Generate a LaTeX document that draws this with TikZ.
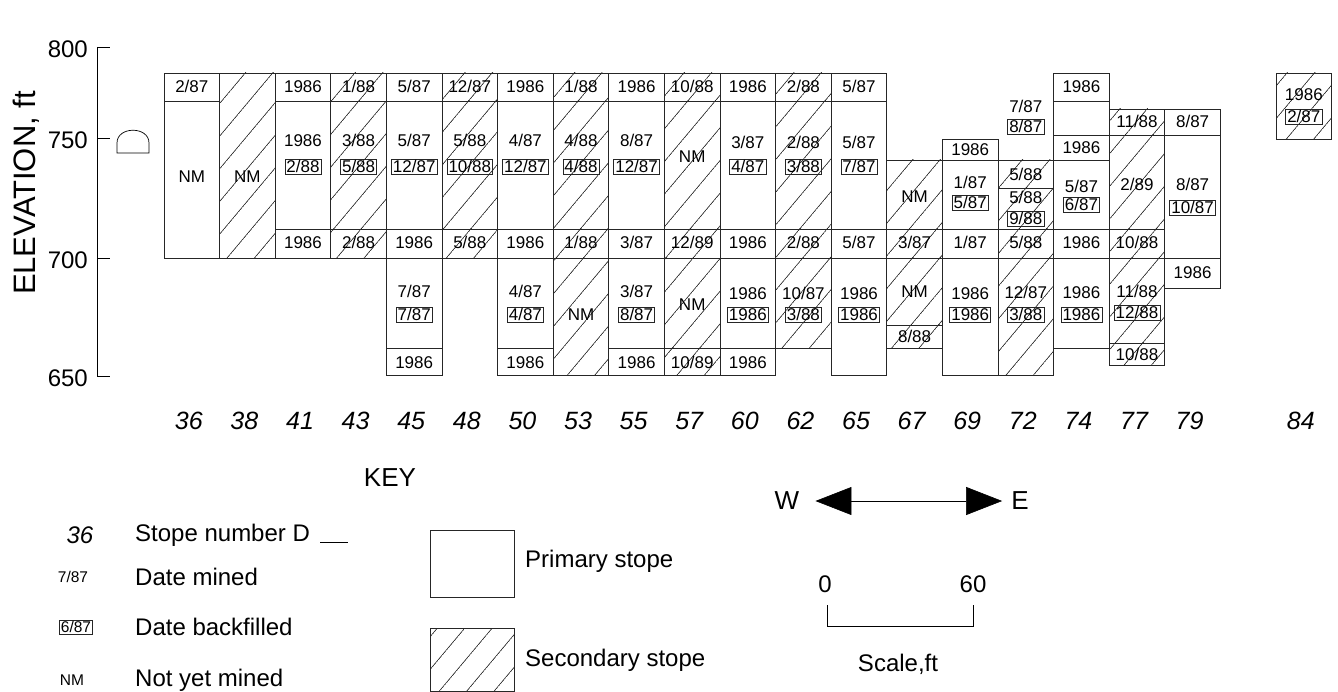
\documentclass[tikz,border=0pt]{standalone}
\usepackage{fontspec}
\setmainfont{Liberation Sans}
\usetikzlibrary{arrows.meta,patterns.meta}

\tikzdeclarepattern{
  name=stopehatch,
  type=uncolored,
  bounding box={(0pt,-0.5pt) and (21pt,0.5pt)},
  tile size={(21pt,21pt)},
  tile transformation={rotate=50},
  code={\pgfsetlinewidth{0.7pt}\pgfpathmoveto{\pgfpointorigin}\pgfpathlineto{\pgfpoint{21pt}{0pt}}\pgfusepath{stroke}}
}

\begin{document}
\begin{tikzpicture}[
    x=1pt, y=-1pt,
    stopeline/.style={draw=black!85, line width=0.7pt},
    primary/.style={stopeline, fill=white},
    secondary/.style={stopeline, pattern=stopehatch, pattern color=black!85},
    minedate/.style={font=\fontsize{17}{19}\selectfont, inner sep=0pt, text height=12pt, text depth=0pt},
    backfill/.style={minedate, draw=black!85, line width=0.6pt, inner xsep=1.6pt, inner ysep=1.6pt},
    stopeno/.style={font=\fontsize{25}{28}\selectfont\itshape, inner sep=0pt},
    axislabel/.style={font=\fontsize{24}{28}\selectfont, inner sep=0pt},
    legtext/.style={font=\fontsize{24}{28}\selectfont, inner sep=0pt, anchor=west},
    legsym/.style={font=\fontsize{15.5}{18}\selectfont, inner sep=0pt, text height=11pt, text depth=0pt},
    dirarrow/.style={{Triangle[length=36pt,width=28pt]}-{Triangle[length=36pt,width=28pt]}, line width=0.6pt}
  ]
  \useasboundingbox (0,0) rectangle (1338,692);

  % elevation axis
  \draw[line width=0.7pt] (97,47) -- (97,376);
  \foreach \y/\v in {47/800,138/750,258/700,376/650}{
    \draw[line width=0.7pt] (97,\y) -- (110,\y);
    \node[axislabel, anchor=east] (elev\v) at (88,\y+2) {\v};
  }
  \node[font=\fontsize{31}{34}\selectfont, rotate=90, inner sep=0pt] (elevtitle) at (26,193) {ELEVATION, ft};

  % drift level D
  \draw[line width=0.7pt] (117,153) -- (117,143) .. controls (117,126) and (149,126) .. (149,143) -- (149,153) -- cycle;

  % primary stopes
  \foreach \c/\t/\b in {0/73/101, 0/101/258,
      2/73/101, 2/101/229, 2/229/258,
      4/73/101, 4/101/229, 4/229/258, 4/258/348, 4/348/375,
      6/73/101, 6/101/229, 6/229/258, 6/258/348, 6/348/375,
      8/73/101, 8/101/229, 8/229/258, 8/258/348, 8/348/375,
      10/73/101, 10/101/229, 10/229/258, 10/258/348, 10/348/375,
      12/73/101, 12/101/229, 12/229/258, 12/258/375,
      14/139/160, 14/160/229, 14/229/258, 14/258/375,
      16/73/101, 16/101/135, 16/135/160, 16/160/229, 16/229/258, 16/258/348,
      18/109/135, 18/135/258, 18/258/288}
    \draw[primary] ({164+55.6*\c},\t) rectangle ({219.6+55.6*\c},\b);

  % secondary stopes
  \foreach \c/\t/\b in {1/73/258,
      3/73/101, 3/101/229, 3/229/258,
      5/73/101, 5/101/229, 5/229/258,
      7/73/101, 7/101/229, 7/229/258, 7/258/375,
      9/73/101, 9/101/229, 9/229/258, 9/258/348, 9/348/375,
      11/73/101, 11/101/229, 11/229/258, 11/258/348,
      13/160/229, 13/229/258, 13/258/325, 13/325/348,
      15/160/188, 15/188/229, 15/229/258, 15/258/375,
      17/109/135, 17/135/229, 17/229/258, 17/258/343, 17/343/365,
      20/73/139}
    \draw[secondary] ({164+55.6*\c},\t) rectangle ({219.6+55.6*\c},\b);

  % dates mined
  \foreach \c/\y/\s in {0/87/{2/87}, 0/177/NM, 1/177/NM,
      2/87/1986, 2/141/1986, 2/243/1986,
      3/87/{1/88}, 3/141/{3/88}, 3/243/{2/88},
      4/87/{5/87}, 4/141/{5/87}, 4/243/1986, 4/292/{7/87}, 4/362/1986,
      5/87/{12/87}, 5/141/{5/88}, 5/243/{5/88},
      6/87/1986, 6/141/{4/87}, 6/243/1986, 6/292/{4/87}, 6/362/1986,
      7/87/{1/88}, 7/141/{4/88}, 7/243/{1/88}, 7/315/NM,
      8/87/1986, 8/141/{8/87}, 8/243/{3/87}, 8/292/{3/87}, 8/362/1986,
      9/87/{10/88}, 9/157/NM, 9/243/{12/89}, 9/305/NM, 9/362/{10/89},
      10/87/1986, 10/143/{3/87}, 10/243/1986, 10/294/1986, 10/362/1986,
      11/87/{2/88}, 11/143/{2/88}, 11/243/{2/88}, 11/294/{10/87},
      12/87/{5/87}, 12/143/{5/87}, 12/243/{5/87}, 12/294/1986,
      13/197/NM, 13/243/{3/87}, 13/292/NM, 13/337/{8/88},
      14/150/1986, 14/183/{1/87}, 14/243/{1/87}, 14/294/1986,
      15/107/{7/87}, 15/175/{5/88}, 15/198/{5/88}, 15/243/{5/88}, 15/293/{12/87},
      16/87/1986, 16/148/1986, 16/187/{5/87}, 16/243/1986, 16/293/1986,
      17/122/{11/88}, 17/185/{2/89}, 17/243/{10/88}, 17/292/{11/88}, 17/354/{10/88},
      18/122/{8/87}, 18/185/{8/87}, 18/273/1986,
      20/95/1986}
    \node[minedate] (mined-\c-\y) at ({191.8+55.6*\c},\y) {\s};

  % dates backfilled
  \foreach \c/\y/\s in {2/167/{2/88}, 3/167/{5/88}, 4/167/{12/87}, 4/315/{7/87},
      5/167/{10/88}, 6/167/{12/87}, 6/315/{4/87}, 7/167/{4/88},
      8/167/{12/87}, 8/315/{8/87}, 10/167/{4/87}, 10/315/1986,
      11/167/{3/88}, 11/315/{3/88}, 12/167/{7/87}, 12/315/1986,
      14/203/{5/87}, 14/315/1986, 15/127/{8/87}, 15/219/{9/88}, 15/315/{3/88},
      16/205/{6/87}, 16/315/1986, 17/313/{12/88}, 18/208/{10/87}, 20/117/{2/87}}
    \node[backfill] (fill-\c-\y) at ({191.8+55.6*\c},\y) {\s};

  % stope numbers
  \foreach \c/\n in {0/36,1/38,2/41,3/43,4/45,5/48,6/50,7/53,8/55,9/57,
      10/60,11/62,12/65,13/67,14/69,15/72,16/74,17/77,18/79,20/84}
    \node[stopeno] (no\n) at ({188.8+55.6*\c},421) {\n};

  % key
  \node[font=\fontsize{26}{30}\selectfont, inner sep=0pt] (key) at (390,478) {KEY};
  \node[stopeno, font=\fontsize{24}{28}\selectfont\itshape] (keyno) at (80,535) {36};
  \node[legtext] (keynotext) at (135,535) {Stope number D};
  \coordinate (dlevel) at (320,542);
  \draw[line width=0.6pt] (dlevel) -- ++(28,0);
  \node[legsym] (keymined) at (73,577) {7/87};
  \node[legtext] (keyminedtext) at (135,577) {Date mined};
  \node[legsym, draw=black!85, line width=0.5pt, inner xsep=1.5pt, inner ysep=1.5pt] (keyfill) at (76,627) {6/87};
  \node[legtext] (keyfilltext) at (135,627) {Date backfilled};
  \node[legsym] (keynm) at (72,680) {NM};
  \node[legtext] (keynmtext) at (135,680) {Not yet mined};

  \draw[primary] (430,530) rectangle (514,597);
  \node[legtext] (keyprimary) at (525,561) {Primary stope};
  \draw[secondary] (430,628) rectangle (514,691);
  \node[legtext] (keysecondary) at (525,660) {Secondary stope};

  % direction and scale
  \node[axislabel, font=\fontsize{26}{30}\selectfont] (west) at (787,501) {W};
  \node[axislabel, font=\fontsize{26}{30}\selectfont] (east) at (1020,501) {E};
  \draw[dirarrow] ([xshift=16pt]west.east) -- ([xshift=-9pt]east.west);
  \node[axislabel] (scale0) at (825,584) {0};
  \node[axislabel] (scale60) at (973,584) {60};
  \draw[line width=0.6pt] (827,605) -- (827,626) -- (973,626) -- (973,605);
  \node[axislabel] (scaletext) at (898,664) {Scale,ft};
\end{tikzpicture}
\end{document}
